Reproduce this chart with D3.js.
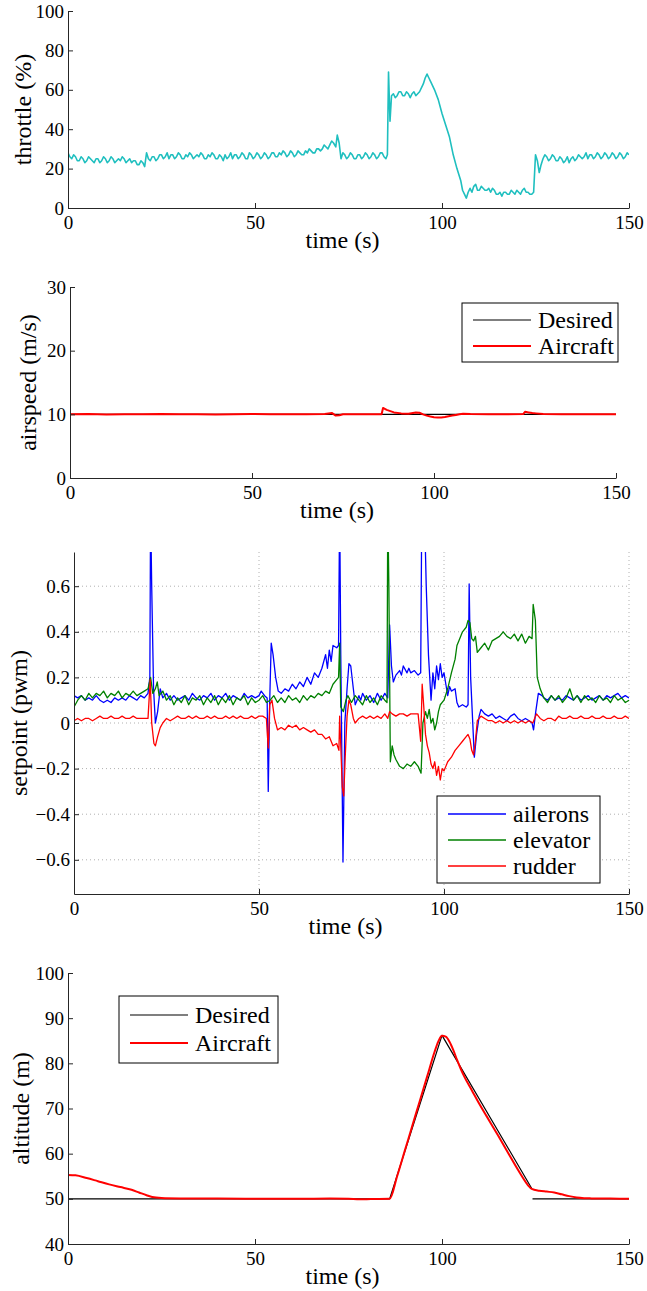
<!DOCTYPE html>
<html>
<head>
<meta charset="utf-8">
<script src="https://cdn.jsdelivr.net/npm/d3@7"></script>
<style>
  body { margin: 0; background: #fff; }
  text { font-family: "Liberation Serif", "Times New Roman", serif; fill: #000; }
</style>
</head>
<body>
<div id="chart"></div>
<script>
var width = 647;
var height = 1291;

// ---- data ----
var timeTicks = [0, 50, 100, 150];

var throttleTicks = [0, 20, 40, 60, 80, 100];
var throttle = [
  [0,28],[0.5,26],[1,25],[1.5,27],[2,26],[2.5,24],[3,24],[3.5,26],[4,25],[4.5,23],[5,24],[5.5,26],[6,25],[6.5,24],[7,23],
  [7.5,25],[8,25],[8.5,23],[9,24],[9.5,26],[10,25],[10.5,23],[11,24],[11.5,26],[12,25],[12.5,23],[13,24],[13.5,25],[14,24],
  [14.5,26],[15,25],[15.5,23],[16,24],[16.5,25],[17,23],[17.5,24],[18,24],[18.5,22],[19,22],[19.5,24],[20,23],[20.5,21],
  [21,28],[21.5,25],[22,24],[22.5,26],[23,26],[23.5,24],[24,25],[24.5,27],[25,27],[25.5,25],[26,26],[26.5,28],[27,25],
  [27.5,27],[28,27],[28.5,25],[29,26],[29.5,28],[30,27],[30.5,25],[31,25],[31.5,27],[32,26],[32.5,28],[33,27],[33.5,25],
  [34,26],[34.5,27],[35,26],[35.5,28],[36,27],[36.5,25],[37,25],[37.5,27],[38,26],[38.5,28],[39,27],[39.5,25],[40,25],
  [40.5,27],[41,26],[41.5,24],[42,27],[42.5,25],[43,26],[43.5,28],[44,25],[44.5,27],[45,27],[45.5,25],[46,26],[46.5,28],
  [47,27],[47.5,25],[48,25],[48.5,28],[49,27],[49.5,25],[50,26],[50.5,28],[51,27],[51.5,25],[52,26],[52.5,28],[53,27],
  [53.5,25],[54,26],[54.5,28],[55,28],[55.5,26],[56,26],[56.5,28],[57,27],[57.5,29],[58,28],[58.5,26],[59,27],[59.5,29],
  [60,28],[60.5,26],[61,27],[61.5,29],[62,28],[62.5,27],[63,27],[63.5,29],[64,28],[64.5,30],[65,29],[65.5,28],[66,28],
  [66.5,30],[67,30],[67.5,29],[68,30],[68.5,32],[69,31],[69.5,30],[70,32],[70.5,34],[71,33],[71.6,31],[72,37],[72.5,33],
  [73,25],[73.5,28],[74,27],[74.5,25],[75,26],[75.5,28],[76,27],[76.5,25],[77,25],[77.5,27],[78,27],[78.5,25],[79,26],
  [79.5,28],[80,27],[80.5,25],[81,26],[81.5,28],[82,27],[82.5,25],[83,26],[83.5,28],[84,28],[84.5,26],[85,25],[85.4,27],
  [85.7,69],[86.1,44],[86.5,57],[87,58],[87.5,56],[88,57],[88.5,59],[89,59],[89.5,57],[90,57],[90.5,59],[91,58],[91.5,56],
  [92,58],[92.5,59],[93,57],[93.5,58],[94,59],[95,63],[95.5,66],[96,68],[96.5,66],[97,64],[98,60],[99,55],[100,48],[101,42],
  [102,36],[103,27],[104,20],[105,14],[105.5,9],[106,7],[106.5,5],[107,8],[107.5,10],[108,8],[108.5,11],[109,12],[109.5,9],
  [110,9],[110.5,11],[111,10],[111.5,9],[112,9],[112.5,10],[113,8],[113.5,10],[114,9],[114.5,7],[115,7],[115.5,8],[116,6],
  [116.5,8],[117,8],[117.5,7],[118,7],[118.5,9],[119,8],[119.5,7],[120,9],[120.5,8],[121,7],[121.5,9],[122,10],[122.5,8],
  [123,8],[123.5,7],[124,7],[124.5,8],[125,27],[125.5,24],[126,18],[126.5,22],[127,25],[127.5,27],[128,26],[128.5,24],
  [129,25],[129.5,27],[130,26],[130.5,24],[131,24],[131.5,26],[132,25],[132.5,23],[133,24],[133.5,26],[134,23],[134.5,25],
  [135,26],[135.5,24],[136,25],[136.5,27],[137,26],[137.5,25],[138,26],[138.5,28],[139,25],[139.5,27],[140,27],[140.5,25],
  [141,26],[141.5,28],[142,27],[142.5,25],[143,26],[143.5,28],[144,27],[144.5,25],[145,26],[145.5,28],[146,27],[146.5,25],
  [147,26],[147.5,28],[148,27],[148.5,25],[149,26],[149.5,28],[150,27]
];

var airspeedTicks = [0, 10, 20, 30];
var airspeedDesired = [[0,10],[150,10]];
var airspeedAircraft = [
  [0,10],[5,10.05],[10,9.98],[15,10.02],[20,10],[25,10.05],[30,10],[35,10.03],[40,9.98],[45,10.02],[50,10.05],[55,10],
  [60,10.03],[65,10],[70,10.05],[72,10.2],[73,9.8],[74,9.85],[75,10],[80,10.02],[85,10],[85.6,10],[86,11.0],[87,10.7],
  [88,10.5],[89,10.3],[91,10.15],[93,10.1],[95,10.3],[96,10.25],[97,10.0],[98,9.8],[99,9.65],[100,9.55],[101,9.5],
  [102,9.52],[103,9.58],[104,9.7],[105,9.8],[106,9.9],[107,10.0],[108,10.1],[110,10.05],[115,10.02],[120,10],[124.5,10.05],
  [125,10.4],[126,10.3],[127,10.2],[128,10.15],[130,10.05],[135,10],[140,10.02],[145,10],[150,10]
];

var setpointTicks = [-0.6, -0.4, -0.2, 0, 0.2, 0.4, 0.6];
var ailerons = [
  [0,0.12],[1,0.11],[2,0.12],[3,0.10],[4,0.11],[5,0.10],[6,0.12],[7,0.10],[8,0.09],[9,0.10],[10,0.09],[11,0.11],[12,0.10],
  [13,0.11],[14,0.10],[15,0.12],[16,0.11],[17,0.10],[18,0.12],[19,0.11],[20,0.13],[20.5,0.2],[20.7,0.95],[21.0,0.6],
  [21.5,0.15],[22,0.0],[22.6,0.05],[23.3,0.15],[24,0.11],[25,0.13],[26,0.1],[27,0.12],[28,0.1],[29,0.11],[30,0.12],[31,0.1],
  [32,0.13],[33,0.11],[34,0.1],[35,0.12],[36,0.11],[37,0.13],[38,0.1],[39,0.12],[40,0.11],[41,0.13],[42,0.1],[43,0.12],
  [44,0.11],[45,0.1],[46,0.13],[47,0.11],[48,0.12],[49,0.11],[50,0.12],[50.6,0.14],[51.5,0.12],[52.2,0.11],[52.5,-0.3],
  [52.9,0.1],[53.3,0.35],[53.8,0.3],[54.5,0.2],[55.2,0.14],[56,0.13],[57,0.15],[58,0.14],[59,0.17],[60,0.15],[61,0.18],
  [62,0.16],[63,0.2],[64,0.17],[65,0.22],[66,0.2],[67,0.24],[68,0.3],[68.5,0.24],[69,0.32],[69.5,0.27],[70,0.34],[71,0.33],
  [71.5,0.34],[71.8,0.95],[72.1,0.3],[72.7,-0.61],[73.2,0.0],[73.8,0.15],[74.3,0.26],[74.8,0.25],[75.5,0.15],[76,0.08],
  [77,0.12],[77.5,0.1],[78,0.13],[79,0.1],[80,0.12],[81,0.09],[82,0.13],[83,0.1],[84,0.13],[84.8,0.11],[85.3,0.43],
  [85.8,0.25],[86.3,0.18],[87,0.21],[88,0.23],[88.5,0.21],[89,0.25],[90,0.22],[90.5,0.24],[91,0.22],[92,0.23],[93,0.21],
  [93.7,0.22],[94,0.95],[94.7,0.95],[95.2,0.6],[95.8,0.3],[96.5,0.1],[97,0.22],[97.5,0.15],[98,0.25],[98.5,0.19],[99,0.26],
  [99.5,0.2],[100,0.22],[100.5,0.17],[101,0.12],[101.5,0.16],[102,0.14],[103,0.15],[103.5,0.09],[104,0.07],[105,0.08],
  [106,0.07],[106.5,0.08],[106.8,0.61],[107.2,0.2],[108.2,-0.15],[108.8,-0.05],[109.5,0.03],[110,0.06],[111,0.04],[112,0.03],
  [113,0.04],[114,0.02],[115,0.03],[116,0.02],[117,0.01],[118,0.03],[119,0.04],[120,0.02],[121,0.01],[122,0.02],[123,0.01],
  [123.8,0.0],[124.2,-0.03],[124.8,0.05],[125.5,0.13],[126.5,0.12],[127,0.11],[128,0.1],[129,0.12],[130,0.1],[131,0.11],
  [132,0.1],[133,0.12],[134,0.11],[135,0.1],[136,0.12],[137,0.1],[138,0.11],[139,0.12],[140,0.1],[141,0.11],[142,0.12],
  [143,0.1],[144,0.12],[145,0.11],[146,0.12],[147,0.13],[148,0.11],[149,0.12],[150,0.11]
];
var elevator = [
  [0,0.07],[1,0.1],[2,0.12],[3,0.1],[4,0.13],[5,0.11],[6,0.13],[7,0.12],[8,0.14],[9,0.11],[10,0.13],[11,0.12],[12,0.14],
  [13,0.11],[14,0.13],[15,0.12],[16,0.14],[17,0.12],[18,0.13],[19,0.14],[20,0.15],[20.7,0.2],[21.3,0.13],[22,0.15],
  [22.5,0.18],[23,0.12],[24,0.14],[25,0.1],[26,0.12],[27,0.08],[28,0.11],[29,0.09],[30,0.12],[31,0.08],[32,0.11],[33,0.1],
  [34,0.12],[35,0.08],[36,0.11],[37,0.09],[38,0.12],[39,0.08],[40,0.11],[41,0.09],[42,0.12],[43,0.08],[44,0.11],[45,0.1],
  [46,0.12],[47,0.08],[48,0.11],[49,0.09],[50,0.1],[51,0.12],[52,0.09],[53,0.1],[54,0.12],[55,0.09],[56,0.11],[57,0.09],
  [58,0.12],[59,0.1],[60,0.11],[61,0.09],[62,0.12],[63,0.1],[64,0.12],[65,0.11],[66,0.13],[67,0.12],[68,0.14],[69,0.13],
  [70,0.17],[71,0.19],[71.5,0.2],[71.8,0.35],[72.1,0.07],[72.8,0.05],[73.5,0.1],[74,0.12],[75,0.09],[76,0.12],[77,0.1],
  [78,0.08],[79,0.12],[80,0.09],[81,0.11],[82,0.08],[83,0.12],[84,0.1],[84.6,0.09],[84.8,0.95],[85.1,0.6],[85.5,-0.17],
  [86,-0.1],[86.5,-0.14],[87,-0.16],[88,-0.19],[89,-0.2],[90,-0.18],[91,-0.19],[92,-0.17],[93,-0.19],[93.8,-0.22],[94.3,0.0],
  [95,0.05],[95.5,0.02],[96,0.06],[96.5,0.0],[97,0.02],[97.5,-0.03],[98,0.0],[98.5,0.05],[99,0.08],[100,0.1],[101,0.15],
  [102,0.22],[103,0.28],[103.5,0.34],[104,0.36],[105,0.4],[106,0.42],[106.5,0.45],[107,0.44],[107.5,0.37],[108,0.36],
  [108.5,0.38],[109,0.31],[110,0.33],[111,0.35],[112,0.32],[113,0.36],[114,0.37],[115,0.38],[116,0.4],[117,0.38],[118,0.37],
  [119,0.39],[120,0.36],[121,0.39],[122,0.35],[123,0.38],[123.8,0.37],[124.1,0.52],[124.7,0.45],[125.2,0.2],[126,0.15],
  [127,0.11],[128,0.09],[129,0.12],[130,0.1],[131,0.12],[132,0.09],[133,0.11],[134,0.15],[135,0.1],[136,0.12],[137,0.09],
  [138,0.12],[139,0.1],[140,0.11],[141,0.09],[142,0.12],[143,0.1],[144,0.11],[145,0.09],[146,0.12],[147,0.1],[148,0.11],
  [149,0.09],[150,0.1]
];
var rudder = [
  [0,0.01],[1,0.02],[2,0.01],[3,0.02],[4,0.02],[5,0.01],[6,0.02],[7,0.03],[8,0.02],[9,0.02],[10,0.03],[11,0.02],[12,0.02],
  [13,0.03],[14,0.02],[15,0.02],[16,0.03],[17,0.02],[18,0.02],[19,0.02],[20,0.02],[20.6,0.19],[21,0.0],[21.6,-0.09],
  [22,-0.1],[22.6,-0.06],[23.3,-0.02],[24,0.0],[25,0.02],[26,0.01],[27,0.02],[28,0.03],[29,0.02],[30,0.02],[31,0.03],
  [32,0.02],[33,0.03],[34,0.02],[35,0.02],[36,0.03],[37,0.02],[38,0.03],[39,0.02],[40,0.02],[41,0.03],[42,0.02],[43,0.03],
  [44,0.02],[45,0.03],[46,0.02],[47,0.02],[48,0.03],[49,0.02],[50,0.03],[51,0.03],[52,0.02],[52.5,-0.11],[52.9,0.08],
  [53.5,0.1],[54.2,0.02],[55,-0.03],[56,-0.02],[57,-0.03],[58,-0.01],[59,-0.02],[60,-0.01],[61,-0.03],[62,-0.02],[63,-0.03],
  [64,-0.04],[65,-0.03],[66,-0.05],[67,-0.05],[68,-0.07],[69,-0.06],[70,-0.1],[71,-0.09],[71.6,-0.12],[71.8,0.03],
  [72.1,-0.1],[72.5,-0.28],[72.9,-0.32],[73.3,-0.15],[73.8,0.03],[74.3,0.1],[74.8,0.08],[75.5,0.02],[76,0.0],[77,0.02],
  [78,0.03],[79,0.02],[80,0.03],[81,0.02],[82,0.03],[83,0.02],[84,0.04],[84.8,0.02],[85.3,0.05],[86,0.04],[87,0.03],
  [88,0.04],[89,0.04],[90,0.03],[91,0.04],[92,0.04],[93,0.04],[93.7,-0.08],[94.1,0.17],[94.5,0.08],[95,-0.05],[95.5,-0.1],
  [96,-0.13],[96.5,-0.18],[97,-0.2],[97.5,-0.17],[98,-0.23],[98.5,-0.19],[99,-0.25],[99.5,-0.2],[100,-0.21],[101,-0.17],
  [102,-0.15],[103,-0.12],[104,-0.1],[105,-0.08],[106,-0.06],[106.5,-0.05],[107,-0.07],[107.5,-0.12],[108,-0.14],
  [108.5,-0.08],[109,0.01],[110,0.03],[111,0.02],[112,0.01],[113,0.01],[114,0.0],[115,0.01],[116,0.0],[117,0.01],[118,0.0],
  [119,0.01],[120,0.0],[121,0.01],[122,0.0],[123,0.01],[124,0.0],[125,0.04],[125.5,0.03],[126,0.02],[127,0.01],[128,0.02],
  [129,0.02],[130,0.01],[131,0.03],[132,0.02],[133,0.02],[134,0.03],[135,0.02],[136,0.02],[137,0.03],[138,0.02],[139,0.02],
  [140,0.03],[141,0.02],[142,0.02],[143,0.03],[144,0.02],[145,0.02],[146,0.03],[147,0.02],[148,0.02],[149,0.03],[150,0.02]
];

var altitudeTicks = [40, 50, 60, 70, 80, 90, 100];
// null = break in the desired path
var altitudeDesired = [[0,50],[86,50],[100,86.2],[124,52.3],null,[124.2,50],[150,50]];
var altitudeAircraft = [
  [0,55.3],[2,55.2],[5,54.6],[8,53.9],[11,53.2],[14,52.6],[17,52.0],[19,51.4],[21,50.8],[22.5,50.4],[25,50.2],[30,50.1],
  [40,50.05],[50,50.0],[60,50.02],[70,50.05],[75,50.0],[78,49.9],[81,49.95],[86,50.0],[88,55],[90,60.5],[92,66],[94,71.5],
  [96,77],[98,82.5],[99,84.8],[100,86.1],[101,85.9],[102,84.8],[103,83],[104,80.8],[105,78.8],[106,77],[108,74],[110,71],
  [112,68.2],[115,64],[118,59.7],[121,55.5],[123,53],[124,52.2],[126,51.8],[128,51.6],[130,51.4],[132,51.0],[134,50.6],
  [136,50.3],[138,50.15],[140,50.1],[145,50.05],[150,50.0]
];

var svg = d3.select("#chart")
    .append("svg")
    .attr("width", width)
    .attr("height", height);

// one axes box, MATLAB style (no box, inward ticks)
function makePanel(opt) {
    var x = d3.scaleLinear().domain([0, 150]).range([opt.left, opt.right]);
    var y = d3.scaleLinear().domain(opt.yDomain).range([opt.bottom, opt.top]);
    var g = svg.append("g");

    if (opt.grid) {
        var grid = g.append("g")
            .attr("stroke", "#b0b0b0")
            .attr("stroke-width", 1)
            .attr("stroke-dasharray", "1,3");
        timeTicks.forEach(function(t) {
            if (t === 0) return;
            grid.append("line")
                .attr("x1", x(t)).attr("x2", x(t))
                .attr("y1", opt.top).attr("y2", opt.bottom);
        });
        opt.yTicks.forEach(function(v) {
            grid.append("line")
                .attr("x1", opt.left).attr("x2", opt.right)
                .attr("y1", y(v)).attr("y2", y(v));
        });
    }

    var clipId = "clip" + opt.id;
    svg.append("clipPath").attr("id", clipId)
        .append("rect")
        .attr("x", opt.left).attr("y", opt.top)
        .attr("width", opt.right - opt.left)
        .attr("height", opt.bottom - opt.top);

    var lines = g.append("g").attr("clip-path", "url(#" + clipId + ")");
    opt.series.forEach(function(s) {
        var line = d3.line()
            .defined(function(d) { return d !== null; })
            .x(function(d) { return x(d[0]); })
            .y(function(d) { return y(d[1]); });
        if (s.smooth) line.curve(d3.curveMonotoneX);
        lines.append("path")
            .datum(s.data)
            .attr("fill", "none")
            .attr("stroke", s.color)
            .attr("stroke-width", s.width)
            .attr("stroke-linejoin", "round")
            .attr("d", line);
    });

    var fmt = opt.yFormat || function(v) { return v; };
    var yAxis = g.append("g")
        .attr("transform", "translate(" + opt.left + ",0)")
        .call(d3.axisLeft(y).tickValues(opt.yTicks).tickFormat(fmt)
            .tickSizeInner(-5).tickSizeOuter(0).tickPadding(4));
    var xAxis = g.append("g")
        .attr("transform", "translate(0," + opt.bottom + ")")
        .call(d3.axisBottom(x).tickValues(timeTicks)
            .tickSizeInner(-5).tickSizeOuter(0).tickPadding(8));
    [xAxis, yAxis].forEach(function(a) {
        a.selectAll("path, line").attr("stroke", "#262626");
        a.selectAll("text")
            .attr("fill", "#000")
            .style("font-family", "'Liberation Serif', serif")
            .style("font-size", "19px");
    });

    g.append("text")
        .attr("x", (opt.left + opt.right) / 2 - 6)
        .attr("y", opt.bottom + 40)
        .attr("text-anchor", "middle")
        .style("font-size", "24px")
        .text("time (s)");

    g.append("text")
        .attr("transform", "translate(" + opt.yTitleX + "," + ((opt.top + opt.bottom) / 2) + ") rotate(-90)")
        .attr("text-anchor", "middle")
        .style("font-size", "24px")
        .text(opt.yTitle);

    if (opt.legend) {
        var L = opt.legend;
        g.append("rect")
            .attr("x", L.x).attr("y", L.y)
            .attr("width", L.w).attr("height", L.h)
            .attr("fill", "#fff")
            .attr("stroke", "#000")
            .attr("stroke-width", 1);
        L.items.forEach(function(it, i) {
            var yy = L.y + L.first + i * L.step;
            g.append("line")
                .attr("x1", L.x + 11).attr("x2", L.x + 69)
                .attr("y1", yy).attr("y2", yy)
                .attr("stroke", it.color)
                .attr("stroke-width", it.width);
            g.append("text")
                .attr("x", L.x + 76)
                .attr("y", yy + 8)
                .style("font-size", "24px")
                .text(it.label);
        });
    }
}

//Throttle
makePanel({
    id: 1, left: 68, right: 629, top: 11, bottom: 208,
    yDomain: [0, 100], yTicks: throttleTicks,
    yTitle: "throttle (%)", yTitleX: 31,
    series: [{ data: throttle, color: "#1fbfbf", width: 1.6 }]
});

//Airspeed
makePanel({
    id: 2, left: 70, right: 616, top: 287, bottom: 478,
    yDomain: [0, 30], yTicks: airspeedTicks,
    yTitle: "airspeed (m/s)", yTitleX: 36,
    series: [
        { data: airspeedDesired, color: "#000", width: 1.2 },
        { data: airspeedAircraft, color: "#ff0000", width: 2 }
    ],
    legend: { x: 462, y: 303, w: 156, h: 59, first: 17, step: 26,
        items: [
            { label: "Desired", color: "#000", width: 1.2 },
            { label: "Aircraft", color: "#ff0000", width: 2 }
        ] }
});

//Setpoints
makePanel({
    id: 3, left: 74, right: 629, top: 552, bottom: 894,
    yDomain: [-0.75, 0.75], yTicks: setpointTicks,
    yFormat: function(v) { return v === 0 ? "0" : d3.format(".1f")(v); },
    yTitle: "setpoint (pwm)", yTitleX: 27, grid: true,
    series: [
        { data: ailerons, color: "#0000ff", width: 1.3 },
        { data: elevator, color: "#008000", width: 1.3 },
        { data: rudder, color: "#ff0000", width: 1.3 }
    ],
    legend: { x: 437, y: 796, w: 163, h: 87, first: 18, step: 26,
        items: [
            { label: "ailerons", color: "#0000ff", width: 1.3 },
            { label: "elevator", color: "#008000", width: 1.3 },
            { label: "rudder", color: "#ff0000", width: 1.3 }
        ] }
});

//Altitude
makePanel({
    id: 4, left: 68, right: 629, top: 973, bottom: 1244,
    yDomain: [40, 100], yTicks: altitudeTicks,
    yTitle: "altitude (m)", yTitleX: 29,
    series: [
        { data: altitudeDesired, color: "#000", width: 1.2 },
        { data: altitudeAircraft, color: "#ff0000", width: 2, smooth: true }
    ],
    legend: { x: 119, y: 996, w: 159, h: 67, first: 19, step: 28,
        items: [
            { label: "Desired", color: "#000", width: 1.2 },
            { label: "Aircraft", color: "#ff0000", width: 2 }
        ] }
});
</script>
</body>
</html>
